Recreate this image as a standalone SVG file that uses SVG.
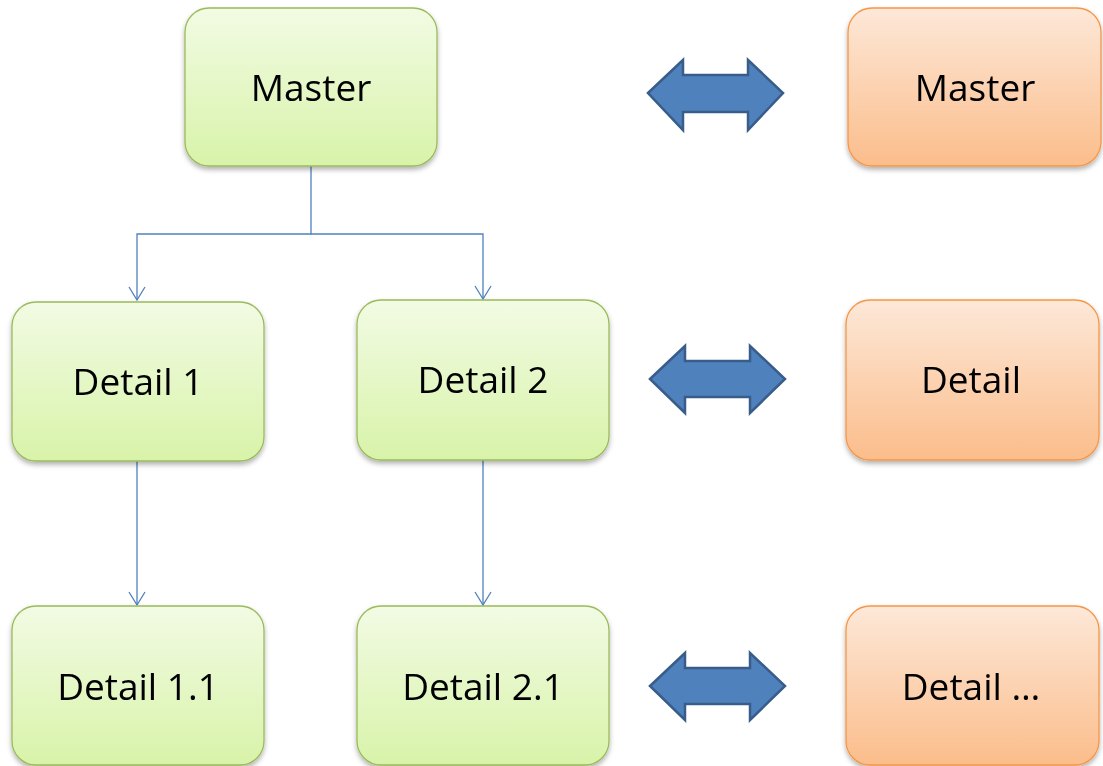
<svg xmlns="http://www.w3.org/2000/svg" width="1103" height="766" viewBox="0 0 1103 766">
<style>
.g{fill:url(#gg);stroke:#9bbb59;stroke-width:1.3}
.o{fill:url(#og);stroke:#f79646;stroke-width:1.3}
.t{font-family:"Open Sans","Liberation Sans",sans-serif;font-size:37px;fill:#000;text-anchor:middle}
.c{fill:none;stroke:#4f81bd;stroke-width:1.3}
.da{fill:#4f81bd;stroke:#385d8a;stroke-width:2.5;stroke-linejoin:miter}
</style>
<defs>
<linearGradient id="gg" x1="0" y1="0" x2="0" y2="1"><stop offset="0" stop-color="#f2fbe4"/><stop offset="1" stop-color="#d8f3a9"/></linearGradient>
<linearGradient id="og" x1="0" y1="0" x2="0" y2="1"><stop offset="0" stop-color="#fde8d8"/><stop offset="1" stop-color="#fbbd8b"/></linearGradient>
<filter id="sh" x="-10%" y="-10%" width="120%" height="125%"><feDropShadow dx="0" dy="3" stdDeviation="2.5" flood-color="#000" flood-opacity="0.3"/></filter>
<marker id="ar" markerWidth="16" markerHeight="18" refX="14" refY="9" orient="auto" markerUnits="userSpaceOnUse" viewBox="0 0 16 18"><path d="M1,1 L14,9 L1,17" fill="none" stroke="#4f81bd" stroke-width="1.3"/></marker>
</defs>
<g id="connectors">
<path class="c" d="M311,166 V234 H137 V300" marker-end="url(#ar)"/>
<path class="c" d="M311,234 H483 V299" marker-end="url(#ar)"/>
<path class="c" d="M137,461 V605" marker-end="url(#ar)"/>
<path class="c" d="M483,460 V605" marker-end="url(#ar)"/>
</g>
<g id="master" filter="url(#sh)"><rect class="g" x="185" y="8" width="252" height="158" rx="24"/><text class="t" x="311" y="101">Master</text></g>
<g id="detail1" filter="url(#sh)"><rect class="g" x="12" y="302" width="252" height="159" rx="24"/><text class="t" x="138" y="395">Detail 1</text></g>
<g id="detail2" filter="url(#sh)"><rect class="g" x="357" y="300" width="252" height="160" rx="24"/><text class="t" x="483" y="393">Detail 2</text></g>
<g id="detail11" filter="url(#sh)"><rect class="g" x="12" y="606" width="252" height="159" rx="24"/><text class="t" x="138" y="700">Detail 1.1</text></g>
<g id="detail21" filter="url(#sh)"><rect class="g" x="357" y="606" width="252" height="159" rx="24"/><text class="t" x="483" y="700">Detail 2.1</text></g>
<g id="omaster" filter="url(#sh)"><rect class="o" x="848" y="8" width="253" height="158" rx="24"/><text class="t" x="975" y="101">Master</text></g>
<g id="odetail" filter="url(#sh)"><rect class="o" x="846" y="300" width="253" height="160" rx="24"/><text class="t" x="971" y="393">Detail</text></g>
<g id="odetailx" filter="url(#sh)"><rect class="o" x="846" y="606" width="253" height="159" rx="24"/><text class="t" x="971" y="700">Detail …</text></g>
<g id="arrow1"><path class="da" d="M648,93 L683,60 V75 H748 V60 L783,93 L748,130 V112 H683 V130 Z"/></g>
<g id="arrow2"><path class="da" d="M650,379 L685,346 V361 H750 V346 L785,379 L750,413 V397 H685 V413 Z"/></g>
<g id="arrow3"><path class="da" d="M650,686 L685,653 V668 H750 V653 L785,686 L750,720 V704 H685 V720 Z"/></g>
</svg>
